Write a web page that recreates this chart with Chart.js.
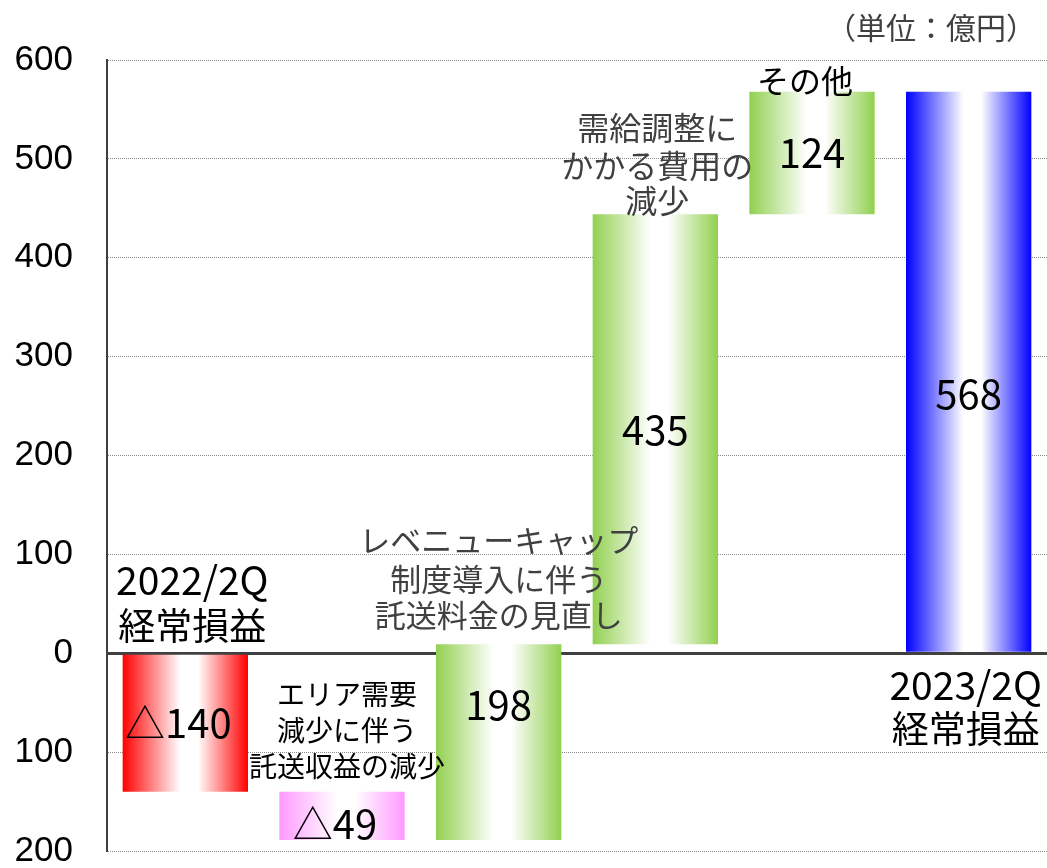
<!DOCTYPE html>
<html>
<head>
<meta charset="utf-8">
<script src="https://cdn.jsdelivr.net/npm/chart.js@4"></script>
<style>
html,body{margin:0;padding:0;background:#fff;}
#wrap{width:1047px;height:868px;position:relative;}
</style>
</head>
<body>
<div id="wrap"><canvas id="c" width="1047" height="868"></canvas></div>
<script>
// ---- data ----
const categories = ['2022/2Q 経常損益', 'エリア需要減少に伴う託送収益の減少', 'レベニューキャップ制度導入に伴う託送料金の見直し', '需給調整にかかる費用の減少', 'その他', '2023/2Q 経常損益'];
const deltas = [-140, -49, 198, 435, 124, 568];
const isTotal = [true, false, false, false, false, true];
const valueLabels = ['△140', '△49', '198', '435', '124', '568'];
const yTicks = [-200, -100, 0, 100, 200, 300, 400, 500, 600];
const barColors = ['#ff0000', '#ff99ff', '#92d050', '#92d050', '#92d050', '#0000ff'];
const unitLabel = '（単位：億円）';

// floating bars [start, end]
const ranges = [];
let run = 0;
deltas.forEach((d, i) => {
  if (isTotal[i]) {
    ranges.push([0, d]);
    run = d;
  } else {
    ranges.push([run, run + d]);
    run = run + d;
  }
});

// ---- text layout (pixel offsets) ----
const annotations = [
  {i: 0, anchor: 'zero', lines: ['2022/2Q', '経常損益'], offs: [-73, -27], dx: 7, color: '#000', sizes: [39, 37]},
  {i: 1, anchor: 'top', lines: ['エリア需要', '減少に伴う', '託送収益の減少'], offs: [-97, -61, -25], dx: 5, color: '#000', sizes: [28, 28, 28], maxW: [140, 140, 196]},
  {i: 2, anchor: 'top', lines: ['レベニューキャップ', '制度導入に伴う', '託送料金の見直し'], offs: [-104, -65, -29], dx: 0, color: '#404040', sizes: [31, 31, 31]},
  {i: 3, anchor: 'top', lines: ['需給調整に', 'かかる費用の', '減少'], offs: [-86, -48, -13], dx: 2, color: '#404040', sizes: [32, 32, 32]},
  {i: 4, anchor: 'top', lines: ['その他'], offs: [-11], dx: -7, color: '#000', sizes: [32]},
  {i: 5, anchor: 'zero', lines: ['2023/2Q', '経常損益'], offs: [32, 76], dx: -3, color: '#000', sizes: [39, 37]}
];
const valueOffsets = [[-7, 0], [-7, 8], [0, -37], [0, 0], [0, 0], [0, 21]];

function barGradient(ctx) {
  const i = ctx.dataIndex;
  const chart = ctx.chart;
  const c = barColors[i];
  if (!chart.chartArea || !chart.scales.x) return c;
  const xs = chart.scales.x;
  const x = xs.getPixelForValue(i);
  const w = xs.width / categories.length * 0.8;
  const g = chart.ctx.createLinearGradient(x - w / 2, 0, x + w / 2, 0);
  g.addColorStop(0, c);
  g.addColorStop(0.46, '#ffffff');
  g.addColorStop(0.6, '#ffffff');
  g.addColorStop(1, c);
  return g;
}

const textPlugin = {
  id: 'texts',
  afterDatasetsDraw(chart) {
    const {ctx} = chart;
    const xs = chart.scales.x, ys = chart.scales.y;
    ctx.save();
    ctx.textAlign = 'center';
    ctx.textBaseline = 'middle';
    // value labels
    valueLabels.forEach((t, i) => {
      const r = ranges[i];
      const cx = xs.getPixelForValue(i) + valueOffsets[i][0];
      const cy = (ys.getPixelForValue(r[0]) + ys.getPixelForValue(r[1])) / 2 + valueOffsets[i][1];
      ctx.fillStyle = '#000';
      ctx.font = '40px "Noto Sans CJK JP"';
      ctx.fillText(t, cx, cy);
    });
    // annotations
    annotations.forEach(a => {
      const r = ranges[a.i];
      const top = ys.getPixelForValue(Math.max(r[0], r[1]));
      const base = a.anchor === 'zero' ? ys.getPixelForValue(0) : top;
      const cx = xs.getPixelForValue(a.i) + a.dx;
      ctx.fillStyle = a.color;
      a.lines.forEach((ln, k) => {
        ctx.font = a.sizes[k] + 'px "Noto Sans CJK JP"';
        if (a.maxW) ctx.fillText(ln, cx, base + a.offs[k], a.maxW[k]);
        else ctx.fillText(ln, cx, base + a.offs[k]);
      });
    });
    // unit label
    ctx.fillStyle = '#404040';
    ctx.font = '30px "Noto Sans CJK JP"';
    ctx.textAlign = 'right';
    ctx.fillText(unitLabel, 1036, 28);
    ctx.restore();
  }
};

new Chart(document.getElementById('c'), {
  type: 'bar',
  data: {
    labels: categories,
    datasets: [{
      data: ranges,
      backgroundColor: barGradient,
      borderWidth: 0,
      barPercentage: 0.8,
      categoryPercentage: 1.0
    }]
  },
  options: {
    responsive: false,
    animation: false,
    layout: {padding: {top: 60, bottom: 17, left: 0, right: 0}},
    plugins: {legend: {display: false}, tooltip: {enabled: false}},
    scales: {
      x: {display: false},
      y: {
        min: -200, max: 600,
        afterBuildTicks(scale) { scale.ticks = yTicks.map(v => ({value: v})); },
        afterFit(scale) {
          scale.width = 107;
          scale.paddingTop = 0;
          scale.paddingBottom = 0;
        },
        ticks: {
          padding: 34,
          color: '#000',
          font: {family: '"Liberation Sans", Arial, sans-serif', size: 35, lineHeight: 1.0},
          callback: v => String(Math.abs(v))
        },
        grid: {
          drawTicks: false,
          color: c => c.tick && c.tick.value === 0 ? '#404040' : '#8c8c8c',
          lineWidth: c => c.tick && c.tick.value === 0 ? 3 : 1
        },
        border: {
          display: true,
          color: '#404040',
          width: 2,
          dash: c => c.tick && c.tick.value === 0 ? [] : [1, 1]
        }
      }
    }
  },
  plugins: [textPlugin]
});
</script>
</body>
</html>
